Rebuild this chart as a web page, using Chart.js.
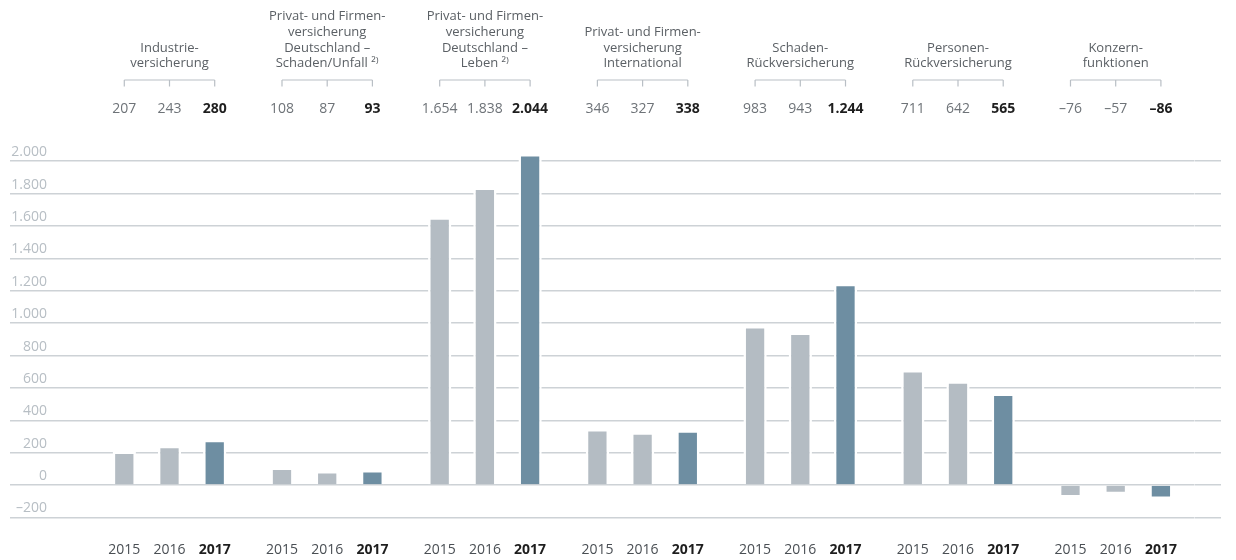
<!DOCTYPE html>
<html>
<head>
<meta charset="utf-8">
<script src="https://cdn.jsdelivr.net/npm/chart.js@4.4.1/dist/chart.umd.min.js"></script>
<style>
  html, body { margin: 0; padding: 0; background: #fff; }
  #wrap { width: 1236px; height: 560px; position: relative; }
</style>
</head>
<body>
<div id="wrap"><canvas id="c"></canvas></div>
<script>
// ---- data ----
const categories = [
  ['Industrie-', 'versicherung'],
  ['Privat- und Firmen-', 'versicherung', 'Deutschland –', 'Schaden/Unfall ²⁾'],
  ['Privat- und Firmen-', 'versicherung', 'Deutschland –', 'Leben ²⁾'],
  ['Privat- und Firmen-', 'versicherung', 'International'],
  ['Schaden-', 'Rückversicherung'],
  ['Personen-', 'Rückversicherung'],
  ['Konzern-', 'funktionen']
];
const years = ['2015', '2016', '2017'];
const values2015 = [207, 108, 1654, 346, 983, 711, -76];
const values2016 = [243, 87, 1838, 327, 943, 642, -57];
const values2017 = [280, 93, 2044, 338, 1244, 565, -86];
const yMin = -200;
const yMax = 2100;
const yStep = 200;

// ---- styles ----
const FONT = "'Open Sans', 'Noto Sans', sans-serif";
const GRID = '#cdd2d6';
const GRAY_BAR = '#b4bcc3';
const BLUE_BAR = '#6e8ea2';
const TXT_LIGHT = '#6e7378';
const TXT_DARK = '#1e1e1e';
const AXIS_TXT = '#b7bec4';

const AREA_LEFT = 90.65, AREA_RIGHT = 1194.55;
const PAD_LEFT = 10, PAD_RIGHT = 1236 - 1221;
const AREA_TOP = 145;

function fmt(v) {
  const s = String(Math.abs(v)).replace(/\B(?=(\d{3})+(?!\d))/g, '.');
  return (v < 0 ? '–' : '') + s;
}

const headerPlugin = {
  id: 'headerPlugin',
  afterDraw(chart) {
    const ctx = chart.ctx;
    const metas = chart.data.datasets.map((d, i) => chart.getDatasetMeta(i));
    const nCat = chart.data.labels.length;
    ctx.save();
    for (let c = 0; c < nCat; c++) {
      const xs = metas.map(m => m.data[c].x);
      // bracket
      ctx.strokeStyle = '#b9bfc5';
      ctx.lineWidth = 1.2;
      ctx.beginPath();
      ctx.moveTo(xs[0], 80); ctx.lineTo(xs[xs.length - 1], 80);
      xs.forEach(x => { ctx.moveTo(x, 80); ctx.lineTo(x, 86.5); });
      ctx.stroke();
      // values
      ctx.textAlign = 'center';
      ctx.textBaseline = 'middle';
      chart.data.datasets.forEach((ds, i) => {
        const last = i === chart.data.datasets.length - 1;
        ctx.font = (last ? 'bold ' : '') + '14px ' + FONT;
        ctx.fillStyle = last ? TXT_DARK : TXT_LIGHT;
        ctx.fillText(fmt(ds.data[c]), xs[i], 109);
        // years
        ctx.fillStyle = last ? TXT_DARK : '#4a4f54';
        ctx.fillText(ds.label, xs[i], 550);
      });
    }
    ctx.restore();
  }
};

const yTicksFilter = (scale) => {
  scale.ticks = scale.ticks.filter(t => t.value % yStep === 0);
};

new Chart(document.getElementById('c'), {
  type: 'bar',
  data: {
    labels: categories,
    datasets: [
      { label: years[0], data: values2015, backgroundColor: GRAY_BAR },
      { label: years[1], data: values2016, backgroundColor: GRAY_BAR },
      { label: years[2], data: values2017, backgroundColor: BLUE_BAR }
    ]
  },
  options: {
    responsive: true,
    maintainAspectRatio: false,
    animation: false,
    layout: { padding: { left: PAD_LEFT, right: PAD_RIGHT, top: 0, bottom: 560 - 517.5 } },
    plugins: { legend: { display: false }, tooltip: { enabled: false } },
    datasets: {
      bar: {
        categoryPercentage: 0.86,
        barPercentage: 0.515,
        borderColor: '#ffffff',
        borderWidth: 2.5,
        borderSkipped: 'start'
      }
    },
    scales: {
      x: {
        position: 'top',
        grid: { display: false, drawTicks: false },
        border: { display: false },
        ticks: {
          color: '#5b6065',
          font: { family: FONT, size: 13, lineHeight: 1.2 },
          padding: 73.7,
          maxRotation: 0,
          autoSkip: false
        },
        afterFit(scale) { scale.height = AREA_TOP; }
      },
      y: {
        position: 'left',
        min: yMin, max: yMax,
        afterBuildTicks: yTicksFilter,
        grid: {
          color: GRID, lineWidth: 1.5,
          drawTicks: true, tickLength: AREA_LEFT - PAD_LEFT, tickColor: GRID, tickWidth: 1.5
        },
        border: { display: false },
        ticks: {
          stepSize: yStep,
          padding: -37,
          labelOffset: -9,
          color: AXIS_TXT,
          font: { family: FONT, size: 14 },
          callback: (v) => fmt(v)
        },
        afterFit(scale) { scale.width = AREA_LEFT - PAD_LEFT; }
      },
      y2: {
        position: 'right',
        min: yMin, max: yMax,
        afterBuildTicks: yTicksFilter,
        grid: {
          drawOnChartArea: false,
          color: GRID, lineWidth: 1.5,
          drawTicks: true, tickLength: 1221 - AREA_RIGHT, tickColor: GRID, tickWidth: 1.5
        },
        border: { display: false },
        ticks: { stepSize: yStep, display: false },
        afterFit(scale) { scale.width = 1221 - AREA_RIGHT; }
      }
    }
  },
  plugins: [headerPlugin]
});
</script>
</body>
</html>
